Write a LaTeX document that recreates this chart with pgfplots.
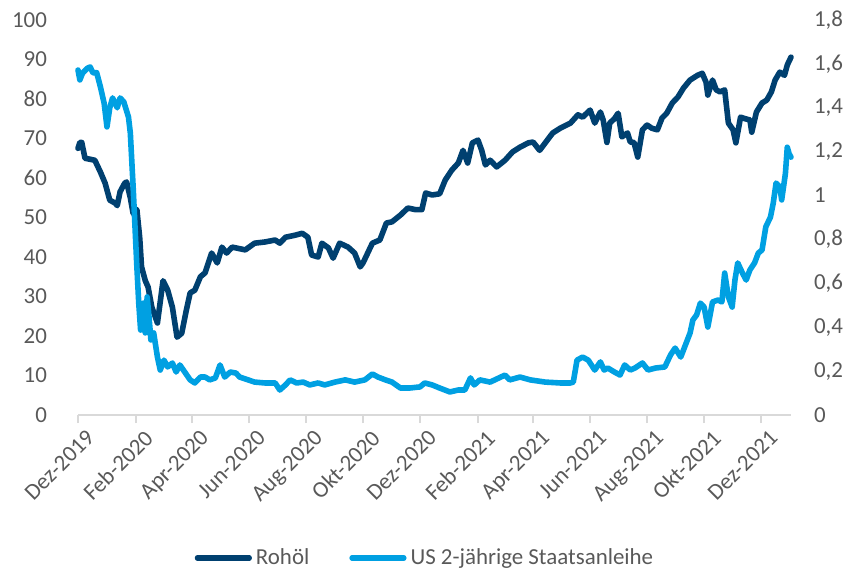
\documentclass[border=0pt]{standalone}
\usepackage{fontspec}
\setmainfont{Carlito}
\usepackage{pgfplots}
\usepackage{pgfplotstable}
\pgfplotsset{compat=1.18}

\definecolor{oilc}{RGB}{0,64,112}
\definecolor{yldc}{RGB}{0,160,226}
\definecolor{lblc}{RGB}{89,89,89}
\definecolor{axlc}{RGB}{217,217,217}

% day = days since 1 Dec 2019
\pgfplotstableread{
day oil
0 67.5
2 69
4 69
7.5 65
18 64.5
24 61.5
29 58.7
34 54.4
40 53.6
42 53
45 56.5
50 58.7
52 59
56 55
59 51
63 52
66 45
68 37.5
72 34
75 32.4
79 27.3
85 23.3
91 34
96 31.6
101 27.3
106 19.7
111 20.7
116 26.6
120 30.9
125 31.6
131 35
136 36
143 41
149 38.5
154 42.5
159 41
165 42.5
179 41.8
189 43.5
200 43.8
211 44.3
216 43.5
222 45
232 45.5
240 46
246 45
250 40.5
257 40
261 43.5
268 42.3
273 39.7
280 43.5
289 42.5
296 41
302 37.5
305 38.5
315 43.5
323 44.3
330 48.6
336 48.9
345 50.6
353 52.4
361 52
368 52
372 56.2
379 55.7
387 56
393 59.5
400 62
407 63.8
412 67
417 63.8
422 68.9
428 69.6
432 67
436 63.3
441 64.5
448 62.8
457 64.5
465 66.6
473 67.8
482 68.9
487 69.1
494 67
500 68.9
508 71.4
516 72.6
527 73.9
535 76
540 75.4
548 77.2
553 73.9
559 76.7
562 74.7
566 69
569 73.9
574 75
578 76.4
582 70.4
588 71.4
591 69.1
595 69
599 65.3
604 72.2
609 73.4
614 72.6
620 72.2
625 75.2
630 76.4
636 79
642 80.5
648 82.8
655 84.8
663 86
668 86.5
672 84.3
674 81
679 84.8
683 82.3
687 81.8
692 82.3
696 73.9
701 72.2
704 68.9
709 75.4
714 75
719 74.7
721 71.6
726 76.7
732 79
737 79.7
742 81.8
746 84.8
751 86.8
756 86
759 88.6
763 90.6
}\oiltab

\pgfplotstableread{
day yld
0 1.572
2 1.527
5 1.559
10 1.58
13 1.586
16 1.559
20 1.56
24 1.495
28 1.42
31 1.313
34 1.40
37 1.445
42 1.40
45 1.445
49 1.427
54 1.358
56 1.285
59 1.04
61 0.857
63 0.675
65 0.51
67 0.387
70 0.51
72 0.374
74 0.538
76 0.447
78 0.342
81 0.374
85 0.264
88 0.205
92 0.25
96 0.219
101 0.237
105 0.196
109 0.228
115 0.191
120 0.16
125 0.146
131 0.173
136 0.173
141 0.16
147 0.169
152 0.228
157 0.173
163 0.196
169 0.191
173 0.173
182 0.16
189 0.15
200 0.146
211 0.146
216 0.114
222 0.137
227 0.16
234 0.146
241 0.15
248 0.137
257 0.146
264 0.137
275 0.15
286 0.16
296 0.15
307 0.16
315 0.187
321 0.173
329 0.16
336 0.15
345 0.123
355 0.123
366 0.128
371 0.146
379 0.137
387 0.123
398 0.105
407 0.114
414 0.114
420 0.169
424 0.137
430 0.16
441 0.15
457 0.182
462 0.16
473 0.173
484 0.16
500 0.15
516 0.146
527 0.146
530 0.15
534 0.25
540 0.264
546 0.25
553 0.205
559 0.242
563 0.205
567 0.214
574 0.196
580 0.182
585 0.228
591 0.205
596 0.214
604 0.237
610 0.205
618 0.214
628 0.219
634 0.273
639 0.305
645 0.264
650 0.319
655 0.374
658 0.433
662 0.456
666 0.51
670 0.492
674 0.401
679 0.515
685 0.524
689 0.515
692 0.647
696 0.538
700 0.492
703 0.615
706 0.693
711 0.647
715 0.615
719 0.661
724 0.693
728 0.738
732 0.752
736 0.857
741 0.902
744 0.966
747 1.057
751 1.04
753 0.98
757 1.10
759 1.22
761 1.19
763 1.175
}\yldtab

\pgfplotsset{
  base/.style={
    scale only axis, width=356.5bp, height=197.5bp,
    xmin=0, xmax=763,
    ticklabel style={font=\fontsize{11.5}{13}\selectfont, text=lblc},
    /pgf/number format/assume math mode=true,
    ytick style={draw=none},
    clip=false,
  },
  serie/.style={line width=2.8bp, line join=round, line cap=round},
}

\begin{document}
\begin{tikzpicture}
\begin{axis}[base,
  ymin=0, ymax=100, ytick={0,10,...,100},
  axis y line*=left, y axis line style={draw=none},
  axis x line*=bottom, x axis line style={axlc, line width=1bp, -},
  xtick={0,62,122,183,244,305,366,428,487,548,609,670,731},
  xticklabels={Dez-2019,Feb-2020,Apr-2020,Jun-2020,Aug-2020,Okt-2020,Dez-2020,Feb-2021,Apr-2021,Jun-2021,Aug-2021,Okt-2021,Dez-2021},
  xtick style={axlc, line width=1bp},
  tick align=outside, major tick length=4bp,
  xticklabel style={rotate=45, anchor=north east, xshift=4bp, yshift=-1bp},
  yticklabel style={xshift=-8bp},
]
\addplot[serie, oilc] table[x=day, y=oil] {\oiltab};
\end{axis}
\begin{axis}[base,
  ymin=0, ymax=1.8, ytick={0,0.2,0.4,0.6,0.8,1,1.2,1.4,1.6,1.8},
  yticklabels={0,{0,2},{0,4},{0,6},{0,8},1,{1,2},{1,4},{1,6},{1,8}},
  axis y line*=right, y axis line style={draw=none},
  axis x line=none,
  yticklabel style={xshift=8bp},
  legend style={at={(0.488,-0.362)}, anchor=center, draw=none, fill=none,
    legend columns=2, font=\fontsize{11.5}{13}\selectfont, text=lblc,
    /tikz/every odd column/.append style={column sep=0bp},
    /tikz/every even column/.append style={column sep=18bp},
    inner sep=0pt},
  legend image code/.code={\draw[#1, line width=2.6bp, line cap=round] (0bp,0bp) -- (26bp,0bp);},
]
\addlegendimage{oilc}
\addlegendentry{Rohöl}
\addplot[serie, yldc] table[x=day, y=yld] {\yldtab};
\addlegendentry{US 2-jährige Staatsanleihe}
\end{axis}
\pgfresetboundingbox
\path[use as bounding box] (-39bp,-77bp) rectangle (384.5bp,207.5bp);
\end{tikzpicture}
\end{document}
